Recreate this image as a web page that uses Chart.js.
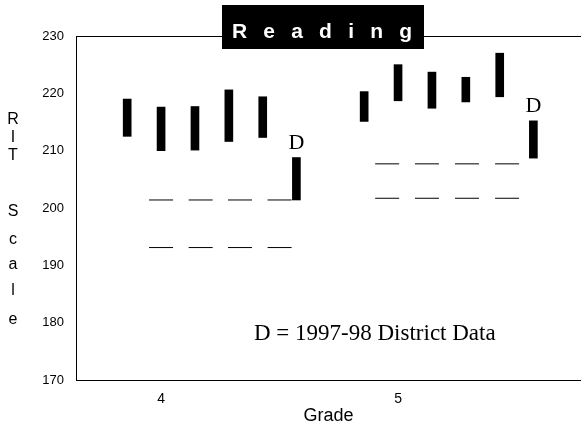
<!DOCTYPE html>
<html>
<head>
<meta charset="utf-8">
<script src="https://cdn.jsdelivr.net/npm/chart.js@4.4.0/dist/chart.umd.min.js"></script>
<style>
  body { margin: 0; background: #fff; }
</style>
</head>
<body>
<canvas id="readingChart" width="581" height="430"></canvas>
<script>
const grades = [4, 5];
const yTicks = [170, 180, 190, 200, 210, 220, 230];

// five school bars per grade (low / high of the range)
const schoolOffsets = [-0.143, 0, 0.143, 0.286, 0.429];
const schoolLow = [
  [212.5, 210.0, 210.1, 211.6, 212.3],
  [215.1, 218.7, 217.4, 218.5, 219.4]
];
const schoolHigh = [
  [219.0, 217.6, 217.7, 220.6, 219.4],
  [220.3, 225.0, 223.7, 222.8, 227.0]
];

// 1997-98 district bar, one per grade
const districtOffset = 0.571;
const districtLow = [201.4, 208.7];
const districtHigh = [208.8, 215.2];

// short dashes (two rows per grade)
const dashOffsets = [
  [0, 0.167, 0.333, 0.5],
  [-0.046, 0.122, 0.291, 0.46]
];
const dashUpper = [
  [201.4, 201.4, 201.4, 201.4],
  [207.7, 207.7, 207.7, 207.7]
];
const dashLower = [
  [193.1, 193.1, 193.1, 193.1],
  [201.7, 201.7, 201.7, 201.7]
];

const yTitleLetters = ['R', 'I', 'T', 'S', 'c', 'a', 'l', 'e'];
const yTitleRows = [120, 138, 156, 212, 240, 265, 291, 320];

const schoolData = grades.flatMap((g, i) =>
  schoolOffsets.map((o, j) => ({ x: g + o, y: [schoolLow[i][j], schoolHigh[i][j]] })));
const districtData = grades.map((g, i) => ({ x: g + districtOffset, y: [districtLow[i], districtHigh[i]] }));
const upperData = grades.flatMap((g, i) => dashOffsets[i].map((o, j) => ({ x: g + o, y: dashUpper[i][j] })));
const lowerData = grades.flatMap((g, i) => dashOffsets[i].map((o, j) => ({ x: g + o, y: dashLower[i][j] })));

const sans = 'Liberation Sans, Arial, sans-serif';
const serif = 'Liberation Serif, Times New Roman, serif';

const decorations = {
  id: 'decorations',
  afterDraw(chart) {
    const { ctx, chartArea, scales } = chart;
    ctx.save();

    // top frame line
    ctx.strokeStyle = '#000';
    ctx.lineWidth = 1;
    ctx.beginPath();
    ctx.moveTo(chartArea.left, chartArea.top + 0.5);
    ctx.lineTo(chart.width, chartArea.top + 0.5);
    ctx.stroke();

    // title box
    ctx.fillStyle = '#000';
    ctx.fillRect(222, 5, 202, 44);
    ctx.fillStyle = '#fff';
    ctx.font = 'bold 21px ' + sans;
    ctx.textBaseline = 'alphabetic';
    ctx.textAlign = 'left';
    const word = 'Reading';
    const gap = 16.2;
    let x = 232;
    for (const ch of word) {
      ctx.fillText(ch, x, 38);
      x += ctx.measureText(ch).width + gap;
    }

    // D labels above district bars
    ctx.fillStyle = '#000';
    ctx.font = '22px ' + serif;
    ctx.textAlign = 'center';
    districtData.forEach(d => {
      ctx.fillText('D', scales.x.getPixelForValue(d.x), scales.y.getPixelForValue(d.y[1]) - 9);
    });

    // note
    ctx.font = '23px ' + serif;
    ctx.textAlign = 'left';
    ctx.fillText('D = 1997-98 District Data', 254, 340);

    // stacked y title
    ctx.font = '16px ' + sans;
    ctx.textAlign = 'center';
    ctx.textBaseline = 'middle';
    yTitleLetters.forEach((ch, i) => {
      ctx.fillText(ch, 13, yTitleRows[i]);
    });

    ctx.restore();
  }
};

const ctx = document.getElementById('readingChart').getContext('2d');
const readingChart = new Chart(ctx, {
  type: 'bar',
  data: {
    datasets: [
      {
        label: 'School',
        data: schoolData,
        backgroundColor: '#000',
        barThickness: 8,
        grouped: false
      },
      {
        label: 'District',
        data: districtData,
        backgroundColor: '#000',
        barThickness: 8,
        grouped: false
      },
      {
        type: 'scatter',
        label: 'Upper',
        data: upperData,
        pointStyle: 'line',
        pointRadius: 12,
        pointHoverRadius: 12,
        borderColor: '#000',
        borderWidth: 1
      },
      {
        type: 'scatter',
        label: 'Lower',
        data: lowerData,
        pointStyle: 'line',
        pointRadius: 12,
        pointHoverRadius: 12,
        borderColor: '#000',
        borderWidth: 1
      }
    ]
  },
  options: {
    responsive: false,
    animation: false,
    layout: { autoPadding: false, padding: { top: 36, left: 0, right: 0, bottom: 0 } },
    plugins: {
      legend: { display: false },
      tooltip: { enabled: false }
    },
    scales: {
      x: {
        type: 'linear',
        min: 3.641,
        max: 5.772,
        offset: false,
        grid: { display: false },
        border: { display: true, color: '#000', width: 1 },
        afterBuildTicks: scale => { scale.ticks = grades.map(v => ({ value: v })); },
        afterFit: scale => { scale.height = 50; },
        ticks: { color: '#000', font: { family: sans, size: 14 }, padding: 3 },
        title: {
          display: true,
          text: 'Grade',
          color: '#000',
          font: { family: sans, size: 18 },
          padding: { top: 0, bottom: 3 }
        }
      },
      y: {
        min: 170,
        max: 230,
        afterBuildTicks: scale => { scale.ticks = yTicks.map(v => ({ value: v })); },
        afterFit: scale => { scale.width = 76; },
        grid: { display: false },
        border: { display: true, color: '#000', width: 1 },
        ticks: { color: '#000', font: { family: sans, size: 13 }, padding: 4 }
      }
    }
  },
  plugins: [decorations]
});
</script>
</body>
</html>
